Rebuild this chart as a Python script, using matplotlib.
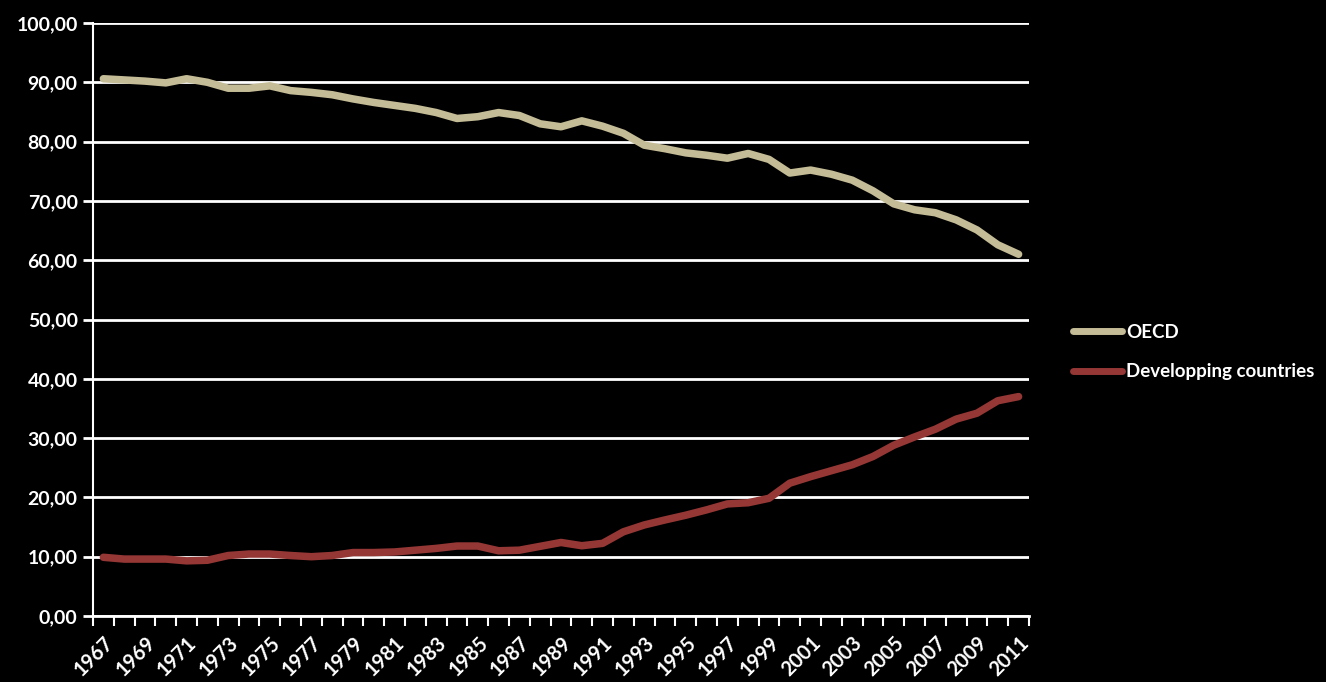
import matplotlib
matplotlib.use("Agg")
import matplotlib.pyplot as plt
import numpy as np

years = list(range(1967, 2012))
oecd = [90.6, 90.4, 90.2, 89.9, 90.6, 90.0, 89.0, 89.0, 89.4, 88.6,
        88.3, 87.9, 87.2, 86.6, 86.1, 85.6, 84.9, 83.9, 84.2, 84.9,
        84.4, 83.0, 82.5, 83.5, 82.6, 81.4, 79.4, 78.8, 78.1, 77.7,
        77.2, 78.0, 77.0, 74.7, 75.2, 74.5, 73.5, 71.7, 69.5, 68.5,
        68.0, 66.8, 65.1, 62.6, 61.0]
developing = [9.9, 9.6, 9.6, 9.6, 9.3, 9.4, 10.2, 10.45, 10.45, 10.2,
              10.0, 10.2, 10.7, 10.7, 10.8, 11.1, 11.4, 11.8, 11.8, 11.0,
              11.1, 11.75, 12.4, 11.85, 12.25, 14.2, 15.35, 16.2, 17.0, 17.9,
              18.9, 19.1, 19.85, 22.4, 23.5, 24.5, 25.5, 26.9, 28.8, 30.2,
              31.5, 33.2, 34.2, 36.3, 37.0]
series_names = ["OECD", "Developping countries"]
series_colors = ["#C4BC96", "#953735"]
y_ticks = [0, 10, 20, 30, 40, 50, 60, 70, 80, 90, 100]

FONT = "Lato"
plt.rcParams["font.family"] = [FONT, "DejaVu Sans"]
plt.rcParams["font.weight"] = "bold"

fig = plt.figure(figsize=(13.26, 6.82), dpi=100, facecolor="black")
ax = fig.add_axes([93 / 1326, 66 / 682, (1029 - 93) / 1326, (616 - 23) / 682])
ax.set_facecolor("black")

x = np.arange(len(years))
for vals, name, col in zip([oecd, developing], series_names, series_colors):
    ax.plot(x, vals, color=col, lw=5.4, label=name,
            solid_capstyle="round", solid_joinstyle="round", zorder=3)

ax.set_xlim(-0.5, len(years) - 0.5)
ax.set_ylim(0, 100)

# horizontal gridlines
ax.set_yticks(y_ticks)
ax.set_yticklabels([f"{v:.2f}".replace(".", ",") for v in y_ticks])
ax.yaxis.grid(True, color="white", lw=2.0, zorder=1)
ax.set_axisbelow(True)

# category boundaries carry the tick marks, labels sit on every second year
ax.set_xticks(np.arange(-0.5, len(years), 1.0))
ax.set_xticklabels([])
ax.set_xticks(x[::2], minor=True)
ax.set_xticklabels([str(y) for y in years[::2]], minor=True,
                   rotation=45, ha="right", va="top", rotation_mode="anchor")
ax.tick_params(axis="x", which="major", length=7, width=1.5, color="white",
               direction="out")
ax.tick_params(axis="y", length=7, width=2, color="white", pad=4)
ax.tick_params(which="both", labelcolor="white", labelsize=14)
ax.tick_params(axis="x", which="minor", length=0, pad=12, labelsize=14.5)
for lab in ax.get_xticklabels(minor=True) + ax.get_yticklabels():
    lab.set_fontweight("bold")
    lab.set_color("white")

for side in ["top", "right"]:
    ax.spines[side].set_visible(False)
ax.spines["left"].set_color("white")
ax.spines["left"].set_linewidth(1.5)
ax.spines["bottom"].set_color("white")
ax.spines["bottom"].set_linewidth(2)

leg = fig.legend(loc="center left", bbox_to_anchor=(1056 / 1326, 1 - 352 / 682),
                 frameon=False, fontsize=13.5, handlelength=2.6, handletextpad=0.25,
                 labelspacing=1.2)
for t in leg.get_texts():
    t.set_color("white")
    t.set_fontweight("bold")
for h in leg.legend_handles:
    h.set_linewidth(5)

fig.savefig("out.png", dpi=100, facecolor="black")
